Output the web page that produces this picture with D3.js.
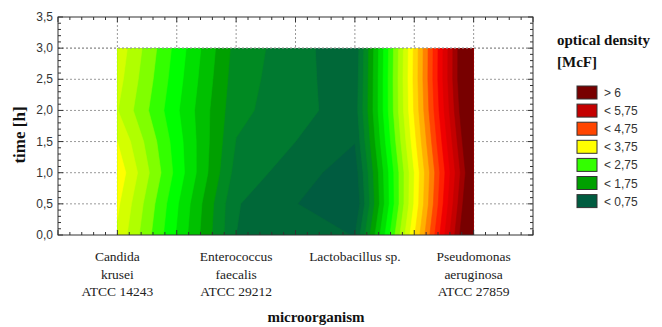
<!DOCTYPE html>
<html>
<head>
<meta charset="utf-8">
<script src="https://cdn.jsdelivr.net/npm/d3@7"></script>
<style>
  body { margin: 0; background: #fff; }
  svg { display: block; }
  .tick-label { font-family: "Liberation Sans", Arial, sans-serif; font-size: 12px; fill: #333; }
  .cat-label { font-family: "Liberation Serif", "Times New Roman", serif; font-size: 13.5px; fill: #222; }
  .axis-title { font-family: "Liberation Serif", "Times New Roman", serif; font-weight: bold; fill: #111; }
</style>
</head>
<body>
<svg id="chart" width="662" height="327"></svg>
<script>
// microorganisms on the x axis (positions 1..4)
const categories = [
    ["Candida", "krusei", "ATCC 14243"],
    ["Enterococcus", "faecalis", "ATCC 29212"],
    ["Lactobacillus sp."],
    ["Pseudomonas", "aeruginosa", "ATCC 27859"]
];
// sampled times [h]
const times = [0, 0.5, 1, 1.5, 2, 2.5, 3];
// optical density [McF] per microorganism, one value per time
const candida = [3.45, 3.55, 3.68, 3.5, 3.26, 3.35, 3.42];
const enterococcus = [1.0, 1.02, 1.15, 1.24, 1.32, 1.36, 1.4];
const lactobacillus = [0.74, 0.5, 0.6, 0.76, 0.86, 0.83, 0.8];
const pseudomonas = [6.7, 6.55, 6.4, 6.55, 6.7, 6.8, 6.8];

// contour levels (lower bound of each band) and band colours
const levels = [0, 0.75, 1.0, 1.25, 1.5, 1.75, 2.0, 2.25, 2.5, 2.75, 3.0, 3.25, 3.5,
    3.75, 4.0, 4.25, 4.5, 4.75, 5.0, 5.25, 5.5, 5.75, 6.0];
const levelColors = ["#005c40", "#006838", "#007a30", "#008a22", "#00a000", "#00c000",
    "#00e000", "#00ff00", "#33ff00", "#80ff00", "#b0ff00", "#d4ff00", "#ffff00",
    "#ffd800", "#ffb000", "#ff8000", "#ff4500", "#ff2000", "#f00000", "#dc0000",
    "#c40000", "#a00000", "#780000"];

// legend entries
const legendLabels = ["> 6", "< 5,75", "< 4,75", "< 3,75", "< 2,75", "< 1,75", "< 0,75"];
const legendColors = ["#780000", "#c40000", "#ff4500", "#ffff00", "#33ff00", "#00a000", "#005c40"];

const yTicks = [0, 0.5, 1, 1.5, 2, 2.5, 3, 3.5];
const xGrid = [1, 1.5, 2, 2.5, 3, 3.5, 4];

const svg = d3.select("#chart");
const margin = {left: 58, right: 533, top: 17, bottom: 235};

const x = d3.scaleLinear().domain([0.5, 4.5]).range([margin.left, margin.right]);
const y = d3.scaleLinear().domain([0, 3.5]).range([margin.bottom, margin.top]);

const fmt = d3.formatLocale({decimal: ",", thousands: ".", grouping: [3], currency: ["", ""]}).format(".1f");

// grid
svg.append("g")
    .selectAll("line.h")
    .data(yTicks.filter(d => d > 0 && d < 3.5))
    .join("line")
    .attr("x1", margin.left).attr("x2", margin.right)
    .attr("y1", d => y(d)).attr("y2", d => y(d))
    .attr("stroke", "#999").attr("stroke-dasharray", "2,2");
svg.append("g")
    .selectAll("line.v")
    .data(xGrid)
    .join("line")
    .attr("x1", d => x(d)).attr("x2", d => x(d))
    .attr("y1", margin.top).attr("y2", margin.bottom)
    .attr("stroke", "#999").attr("stroke-dasharray", "2,2");

// contour grid: rows = times, columns = microorganisms
const series = [candida, enterococcus, lactobacillus, pseudomonas];
const nx = series.length, ny = times.length;
const values = [];
for (let j = 0; j < ny; j++) {
    for (let i = 0; i < nx; i++) values.push(series[i][j]);
}
const timeAt = d3.scaleLinear().domain([0, ny - 1]).range([times[0], times[ny - 1]]);
const projection = d3.geoTransform({
    point: function (cx, cy) {
        this.stream.point(x(cx + 0.5), y(timeAt(cy - 0.5)));
    }
});
const path = d3.geoPath(projection);
const bands = d3.contours().size([nx, ny]).thresholds(levels)(values);

svg.append("clipPath").attr("id", "dataClip")
    .append("rect")
    .attr("x", x(1)).attr("y", y(times[ny - 1]))
    .attr("width", x(nx) - x(1))
    .attr("height", y(times[0]) - y(times[ny - 1]));

svg.append("g")
    .attr("clip-path", "url(#dataClip)")
    .selectAll("path")
    .data(bands)
    .join("path")
    .attr("d", path)
    .attr("fill", d => levelColors[levels.indexOf(d.value)])
    .attr("stroke", d => levelColors[levels.indexOf(d.value)])
    .attr("stroke-width", 0.6);

// top grid line at 3.0 stays visible over the data edge
svg.append("line")
    .attr("x1", margin.left).attr("x2", margin.right)
    .attr("y1", y(3)).attr("y2", y(3))
    .attr("stroke", "#999").attr("stroke-dasharray", "2,2");

// frame
svg.append("rect")
    .attr("x", margin.left).attr("y", margin.top)
    .attr("width", margin.right - margin.left)
    .attr("height", margin.bottom - margin.top)
    .attr("fill", "none").attr("stroke", "#333").attr("stroke-width", 1);

// inward ticks on all sides
const ticks = svg.append("g").attr("stroke", "#333").attr("stroke-width", 1);
const xMinor = d3.range(5, 46).map(d => d / 10);
const yMinor = d3.range(0, 36).map(d => d / 10);
xMinor.forEach(v => {
    const major = Math.abs(v * 2 - Math.round(v * 2)) < 1e-6;
    const len = major ? 5 : 3;
    ticks.append("line").attr("x1", x(v)).attr("x2", x(v))
        .attr("y1", margin.bottom).attr("y2", margin.bottom - len);
    ticks.append("line").attr("x1", x(v)).attr("x2", x(v))
        .attr("y1", margin.top).attr("y2", margin.top + len);
});
yMinor.forEach(v => {
    const major = Math.abs(v * 2 - Math.round(v * 2)) < 1e-6;
    const len = major ? 5 : 3;
    ticks.append("line").attr("y1", y(v)).attr("y2", y(v))
        .attr("x1", margin.left).attr("x2", margin.left + len);
    ticks.append("line").attr("y1", y(v)).attr("y2", y(v))
        .attr("x1", margin.right).attr("x2", margin.right - len);
});

// y tick labels
svg.append("g")
    .selectAll("text")
    .data(yTicks)
    .join("text")
    .attr("class", "tick-label")
    .attr("x", margin.left - 5)
    .attr("y", d => y(d) + 4)
    .attr("text-anchor", "end")
    .text(d => fmt(d));

// category labels
const catG = svg.append("g")
    .selectAll("text")
    .data(categories)
    .join("text")
    .attr("class", "cat-label")
    .attr("text-anchor", "middle")
    .attr("x", (d, i) => x(i + 1))
    .attr("y", 261);
catG.selectAll("tspan")
    .data(d => d)
    .join("tspan")
    .attr("x", function () { return this.parentNode.getAttribute("x"); })
    .attr("dy", (d, i) => i === 0 ? 0 : 17.5)
    .text(d => d);

// axis titles
svg.append("text")
    .attr("class", "axis-title")
    .attr("font-size", 15)
    .attr("text-anchor", "middle")
    .attr("x", 316).attr("y", 322)
    .text("microorganism");
svg.append("text")
    .attr("class", "axis-title")
    .attr("font-size", 17)
    .attr("text-anchor", "middle")
    .attr("transform", "translate(25,135) rotate(-90)")
    .text("time [h]");

// legend
const legend = svg.append("g");
legend.append("text").attr("class", "axis-title").attr("font-size", 15)
    .attr("x", 557).attr("y", 45).text("optical density");
legend.append("text").attr("class", "axis-title").attr("font-size", 15)
    .attr("x", 557).attr("y", 67).text("[McF]");
const items = legend.selectAll("g.item")
    .data(legendLabels)
    .join("g")
    .attr("transform", (d, i) => `translate(577,${86 + i * 18.1})`);
items.append("rect")
    .attr("width", 20).attr("height", 13)
    .attr("fill", (d, i) => legendColors[i])
    .attr("stroke", "#333").attr("stroke-width", 1);
items.append("text")
    .attr("class", "tick-label")
    .attr("font-size", 12.5)
    .attr("x", 27).attr("y", 11)
    .text(d => d);
</script>
</body>
</html>
